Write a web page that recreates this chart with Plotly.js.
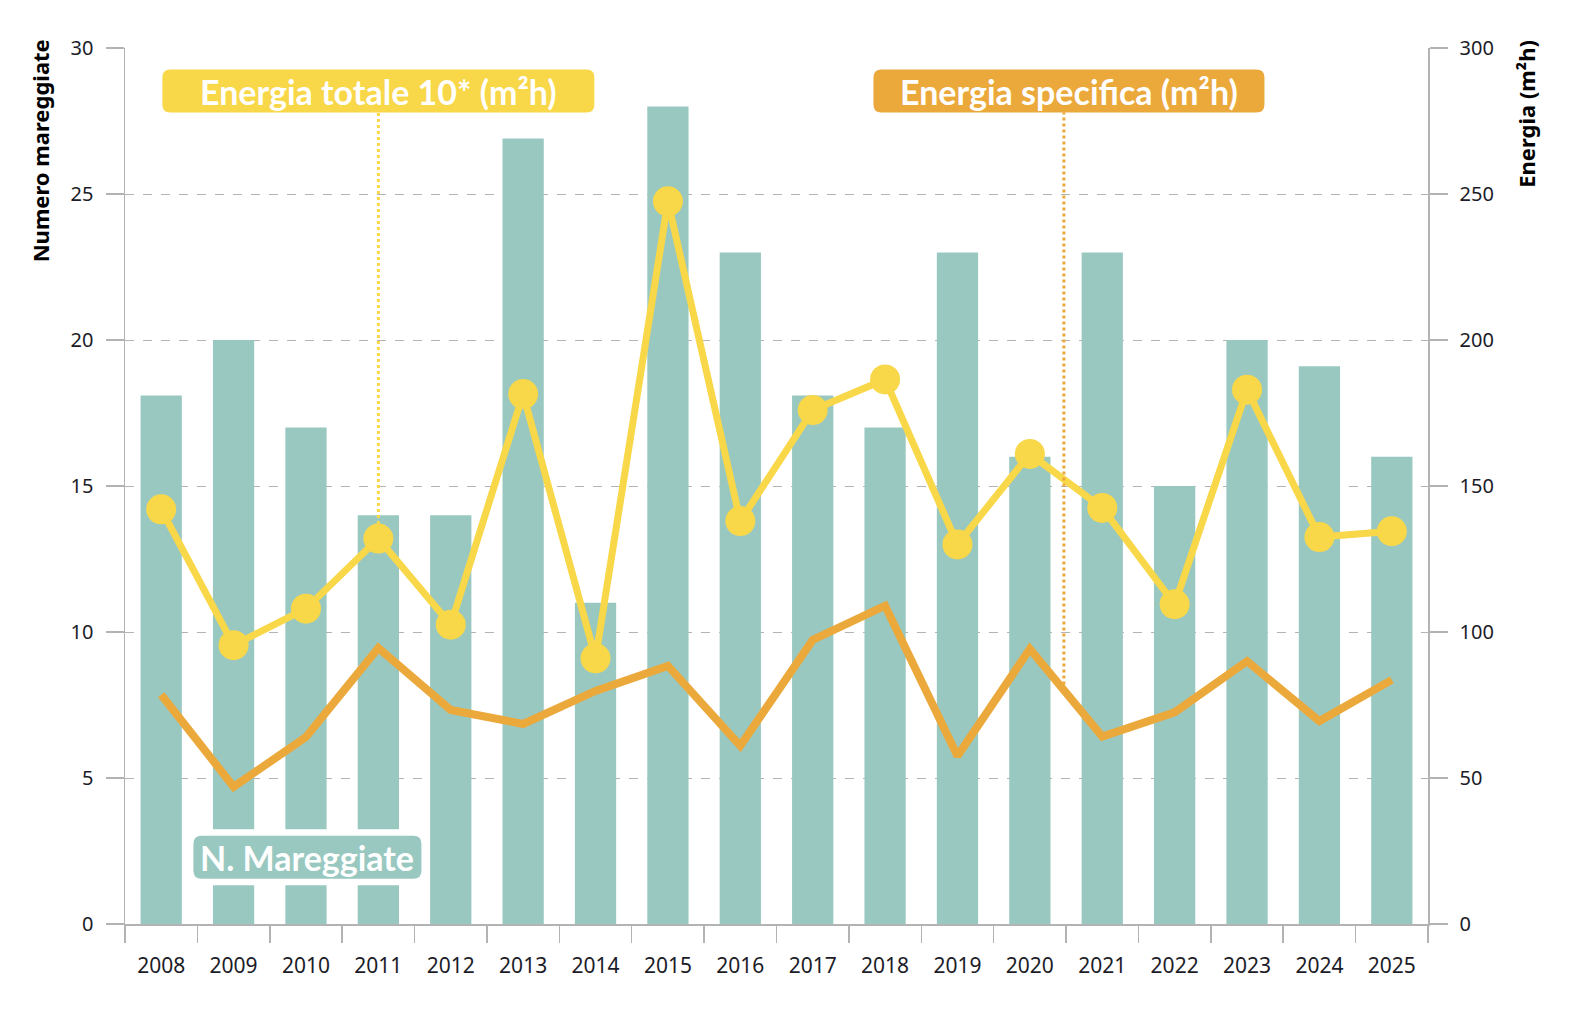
<!DOCTYPE html>
<html>
<head>
<meta charset="utf-8">
<script src="https://cdn.plot.ly/plotly-3.0.1.min.js"></script>
<style>
  html, body { margin: 0; padding: 0; background: #fff; }
  #chart { width: 1576px; height: 1020px; }
</style>
</head>
<body>
<div id="chart"></div>
<script>
// anni
var years = ['2008','2009','2010','2011','2012','2013','2014','2015','2016',
             '2017','2018','2019','2020','2021','2022','2023','2024','2025'];

// numero mareggiate (asse sinistro)
var nMareggiate = [18.1, 20, 17, 14, 14, 26.9, 11, 28, 23, 18.1, 17, 23, 16, 23, 15, 20, 19.1, 16];

// energia totale 10* (m2h) (asse destro)
var energiaTotale = [142, 95.5, 108, 132, 102.5, 181.5, 91, 247.5, 138, 176, 186.5,
                     130, 161, 142.5, 109.5, 183, 132.5, 134.5];

// energia specifica (m2h) (asse destro)
var energiaSpecifica = [78.5, 47, 64, 94.5, 73.3, 68.5, 79.8, 88.4, 61, 97.3, 109,
                        57.5, 94.2, 64.2, 72.5, 90, 69.5, 83.6];

var teal = '#99C8C1';
var yellow = '#F8D748';
var orange = '#EBA93C';
var gray = '#b3b3b3';
var txt = '#1c1c28';

// rettangolo arrotondato in pixel, centrato sull'ancora
function roundRect(w, h, r) {
    var x = w / 2, y = h / 2;
    return 'M' + (-x + r) + ',' + (-y) +
           ' L' + (x - r) + ',' + (-y) + ' Q' + x + ',' + (-y) + ' ' + x + ',' + (-y + r) +
           ' L' + x + ',' + (y - r) + ' Q' + x + ',' + y + ' ' + (x - r) + ',' + y +
           ' L' + (-x + r) + ',' + y + ' Q' + (-x) + ',' + y + ' ' + (-x) + ',' + (y - r) +
           ' L' + (-x) + ',' + (-y + r) + ' Q' + (-x) + ',' + (-y) + ' ' + (-x + r) + ',' + (-y) + ' Z';
}

function labelBox(xa, xref, ya, yref, w, h, r, color) {
    return {
        type: 'path', xref: xref, yref: yref,
        xsizemode: 'pixel', ysizemode: 'pixel',
        xanchor: xa, yanchor: ya,
        path: roundRect(w, h, r),
        fillcolor: color, line: { width: 0 }, layer: 'above'
    };
}

var bars = {
    x: years,
    y: nMareggiate,
    type: 'bar',
    marker: { color: teal },
    yaxis: 'y'
};

var specifica = {
    x: years,
    y: energiaSpecifica,
    type: 'scatter',
    mode: 'lines',
    line: { color: orange, width: 8 },
    yaxis: 'y2'
};

var totale = {
    x: years,
    y: energiaTotale,
    type: 'scatter',
    mode: 'lines+markers',
    line: { color: yellow, width: 7 },
    marker: { color: yellow, size: 30 },
    yaxis: 'y2'
};

var boxFont = { size: 34, color: '#fff', family: 'Lato, sans-serif', weight: 'bold' };
var titleFont = { size: 22, color: '#000', family: 'Noto Sans, sans-serif', weight: 'bold' };

var layout = {
    width: 1576,
    height: 1020,
    margin: { l: 125, r: 148, t: 48, b: 96 },
    paper_bgcolor: '#fff',
    plot_bgcolor: '#fff',
    showlegend: false,
    bargap: 0.43,
    font: { family: 'Noto Sans, sans-serif', size: 20, color: txt },
    xaxis: {
        type: 'category',
        range: [-0.5, 17.5],
        showline: true,
        linecolor: gray,
        linewidth: 1.5,
        ticks: 'outside',
        tickson: 'boundaries',
        ticklen: 17,
        tickcolor: gray,
        tickwidth: 1.5,
        showgrid: false,
        ticklabelstandoff: 22,
        tickfont: { size: 21, color: txt }
    },
    yaxis: {
        range: [0, 30],
        dtick: 5,
        showline: true,
        linecolor: gray,
        linewidth: 1.5,
        ticks: 'outside',
        ticklen: 18,
        tickcolor: gray,
        tickwidth: 1.5,
        showgrid: true,
        gridcolor: gray,
        griddash: 'dash',
        gridwidth: 1,
        zeroline: false,
        ticklabelstandoff: 8,
        tickfont: { size: 20, color: txt }
    },
    yaxis2: {
        overlaying: 'y',
        side: 'right',
        range: [0, 300],
        dtick: 50,
        showline: true,
        linecolor: gray,
        linewidth: 1.5,
        ticks: 'outside',
        ticklen: 18,
        tickcolor: gray,
        tickwidth: 1.5,
        showgrid: false,
        zeroline: false,
        ticklabelstandoff: 8,
        tickfont: { size: 20, color: txt }
    },
    shapes: [
        // linea tratteggiata energia totale
        { type: 'line', xref: 'x', yref: 'y2', x0: 3, x1: 3, y0: 137, y1: 278,
          line: { color: yellow, width: 3, dash: 'dot' } },
        // linea tratteggiata energia specifica
        { type: 'line', xref: 'x', yref: 'y2', x0: 12.47, x1: 12.47, y0: 82, y1: 278,
          line: { color: orange, width: 3, dash: 'dot' } },
        labelBox(3, 'x', 0.9508, 'paper', 432, 43, 8, yellow),
        labelBox(12.54, 'x', 0.9508, 'paper', 391, 43, 8, orange),
        labelBox(2.02, 'x', 2.29, 'y', 242, 56, 12, '#fff'),
        labelBox(2.02, 'x', 2.29, 'y', 228, 43, 8, teal)
    ],
    annotations: [
        { text: 'Numero mareggiate', xref: 'paper', yref: 'paper', x: -0.065, y: 1.012,
          xanchor: 'center', yanchor: 'top', textangle: -90, showarrow: false, font: titleFont },
        { text: 'Energia (m²h)', xref: 'paper', yref: 'paper', x: 1.0755, y: 1.012,
          xanchor: 'center', yanchor: 'top', textangle: -90, showarrow: false, font: titleFont },
        { text: 'Energia totale 10* (m²h)', xref: 'x', yref: 'paper', x: 3, y: 0.9508,
          xanchor: 'center', yanchor: 'middle', showarrow: false, font: boxFont },
        { text: 'Energia specifica (m²h)', xref: 'x', yref: 'paper', x: 12.54, y: 0.9508,
          xanchor: 'center', yanchor: 'middle', showarrow: false, font: boxFont },
        { text: 'N. Mareggiate', xref: 'x', yref: 'y', x: 2.02, y: 2.29,
          xanchor: 'center', yanchor: 'middle', showarrow: false, font: boxFont }
    ]
};

Plotly.newPlot('chart', [bars, specifica, totale], layout, { displayModeBar: false, staticPlot: true });
</script>
</body>
</html>
